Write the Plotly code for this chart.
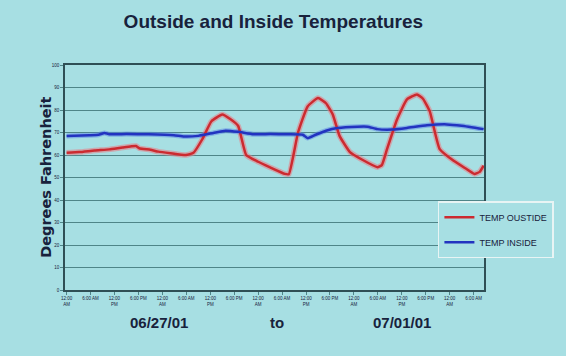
import plotly.graph_objects as go

# Hours elapsed since 12:00 AM on 06/27/01
outside_hours = [0, 3.2, 7, 10.7, 14, 17.4, 18.2, 21, 23, 26, 29.9, 31.8, 34, 36.3, 39, 41, 43, 45,
                 48, 51, 54.7, 55.7, 58, 60.4, 63, 65, 66.7, 68.4, 71, 74, 77.9, 79, 80.3, 82.8,
                 85.3, 87.8, 89.3, 91, 93.5, 97, 100, 102.2, 103.5, 104.5]
outside_temp = [61, 61.3, 62, 62.5, 63.3, 64, 63, 62.3, 61.5, 60.8, 60, 61, 67, 75, 78, 76, 72.9, 60,
                57, 54.5, 51.6, 51.5, 70, 81.6, 85.3, 83, 78, 68.5, 61.3, 58, 54.6, 55.5, 62.6, 75.8,
                84.7, 86.9, 85, 79.5, 62.6, 57.4, 54, 51.6, 52.5, 55.3]

inside_hours = [0, 5.7, 8, 9.5, 10.7, 15, 20.6, 26.9, 29.4, 33, 36.8, 39.8, 43, 46.8, 51, 55.5, 59.2,
                60.4, 62.4, 65, 67.9, 72.9, 75.4, 77.9, 81.6, 85.3, 90.3, 95.3, 99, 104.5]
inside_temp = [68.5, 68.8, 69, 69.8, 69.2, 69.3, 69.2, 68.8, 68.2, 68.5, 69.8, 70.8, 70.3, 69.2, 69.3,
               69.2, 69, 67.5, 69, 70.8, 72, 72.6, 72.6, 71.5, 71.3, 72, 73.2, 73.6, 73, 71.5]

tick_hours = list(range(0, 103, 6))
tick_labels = ["12:00<br>AM", "6:00 AM", "12:00<br>PM", "6:00 PM"] * 4 + ["12:00<br>AM", "6:00 AM"]
y_ticks = list(range(0, 101, 10))

BG = "#a7dfe3"
NAVY = "#18223c"
GRID = "#4f8588"
NARROW = "Liberation Sans Narrow, Arial Narrow, Liberation Sans"

fig = go.Figure()

# soft halo under each line, then the line itself
fig.add_trace(go.Scatter(x=outside_hours, y=outside_temp, mode="lines", showlegend=False,
                         line=dict(color="rgba(235,120,130,0.55)", width=5.5, shape="spline", smoothing=0.4),
                         hoverinfo="skip"))
fig.add_trace(go.Scatter(x=inside_hours, y=inside_temp, mode="lines", showlegend=False,
                         line=dict(color="rgba(90,130,230,0.5)", width=5, shape="spline", smoothing=0.4),
                         hoverinfo="skip"))
fig.add_trace(go.Scatter(x=outside_hours, y=outside_temp, mode="lines", name="TEMP OUSTIDE",
                         legendgroup="a",
                         line=dict(color="#cc2a30", width=2.5, shape="spline", smoothing=0.4)))
fig.add_trace(go.Scatter(x=inside_hours, y=inside_temp, mode="lines", name="TEMP INSIDE",
                         legendgroup="b",
                         line=dict(color="#2233c0", width=2.5, shape="spline", smoothing=0.4)))

fig.update_layout(
    width=566, height=356,
    margin=dict(l=65, r=79, t=65, b=66),
    paper_bgcolor=BG, plot_bgcolor=BG,
    title=dict(text="<b>Outside and Inside Temperatures</b>", x=0.483, xanchor="center",
               y=0.94, yanchor="middle",
               font=dict(family=NARROW, size=19, color=NAVY)),
    xaxis=dict(range=[-0.4, 104.6], tickmode="array", tickvals=tick_hours, ticktext=tick_labels,
               tickfont=dict(family="Liberation Sans", size=4.5, color=NAVY),
               ticks="outside", ticklen=3, tickcolor=GRID,
               showgrid=False, zeroline=False, showline=True, linecolor="#2f4f55", linewidth=1.5,
               mirror=True),
    yaxis=dict(range=[0, 100], tickmode="array", tickvals=y_ticks,
               tickfont=dict(family="Liberation Sans", size=4.5, color=NAVY),
               ticks="outside", ticklen=3, tickcolor=GRID,
               showgrid=True, gridcolor=GRID, gridwidth=1.4, zeroline=False,
               showline=True, linecolor="#2f4f55", linewidth=1.5, mirror=True),
    legend=dict(x=0.89, y=0.395, xanchor="left", yanchor="top",
                bgcolor=BG, bordercolor="#e8f4f4", borderwidth=1.5,
                tracegroupgap=6, itemwidth=30,
                font=dict(family=NARROW, size=9, color=NAVY)),
    annotations=[
        dict(text="<b>Degrees Fahrenheit</b>", textangle=-90, xref="paper", yref="paper",
             x=-0.047, y=0.5, xanchor="center", yanchor="middle", showarrow=False,
             font=dict(family="DejaVu Sans", size=14.5, color=NAVY)),
        dict(text="<b>06/27/01</b>", xref="paper", yref="paper", x=0.225, y=-0.145,
             xanchor="center", yanchor="middle", showarrow=False,
             font=dict(family=NARROW, size=15, color=NAVY)),
        dict(text="<b>to</b>", xref="paper", yref="paper", x=0.505, y=-0.145,
             xanchor="center", yanchor="middle", showarrow=False,
             font=dict(family=NARROW, size=15, color=NAVY)),
        dict(text="<b>07/01/01</b>", xref="paper", yref="paper", x=0.805, y=-0.145,
             xanchor="center", yanchor="middle", showarrow=False,
             font=dict(family=NARROW, size=15, color=NAVY)),
    ],
)

fig.write_html("out.html")
